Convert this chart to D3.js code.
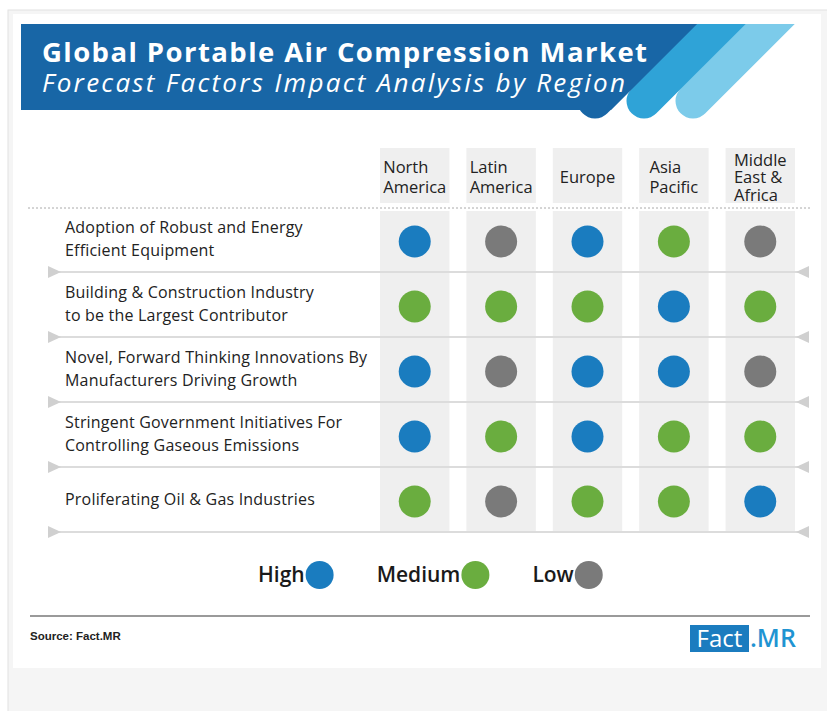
<!DOCTYPE html>
<html>
<head>
<meta charset="utf-8">
<script src="https://cdn.jsdelivr.net/npm/d3@7"></script>
<style>
  body { margin: 0; background: #fff; }
  svg { display: block; }
</style>
</head>
<body>
<div id="chart"></div>
<script>
var width = 827, height = 711;

// data
var regions = ["North America", "Latin America", "Europe", "Asia Pacific", "Middle East & Africa"];
var regionLines = [["North", "America"], ["Latin", "America"], ["Europe"], ["Asia", "Pacific"], ["Middle", "East &", "Africa"]];
var factors = [
  "Adoption of Robust and Energy Efficient Equipment",
  "Building & Construction Industry to be the Largest Contributor",
  "Novel, Forward Thinking Innovations By Manufacturers Driving Growth",
  "Stringent Government Initiatives For Controlling Gaseous Emissions",
  "Proliferating Oil & Gas Industries"
];
var factorLines = [
  ["Adoption of Robust and Energy", "Efficient Equipment"],
  ["Building & Construction Industry", "to be the Largest Contributor"],
  ["Novel, Forward Thinking Innovations By", "Manufacturers Driving Growth"],
  ["Stringent Government Initiatives For", "Controlling Gaseous Emissions"],
  ["Proliferating Oil & Gas Industries"]
];
var levels = ["High", "Medium", "Low"];
var impact = [
  ["High", "Low", "High", "Medium", "Low"],
  ["Medium", "Medium", "Medium", "High", "Medium"],
  ["High", "Low", "High", "High", "Low"],
  ["High", "Medium", "High", "Medium", "Medium"],
  ["Medium", "Low", "Medium", "Medium", "High"]
];

var color = d3.scaleOrdinal().domain(levels).range(["#1a7cbf", "#6aad3f", "#7a7a7a"]);

var svg = d3.select("#chart").append("svg")
  .attr("width", width)
  .attr("height", height);

// page frame
svg.append("rect").attr("x", 8).attr("y", 10).attr("width", 830).attr("height", 710)
  .attr("fill", "#f5f5f5").attr("stroke", "#e2e2e2");
svg.append("rect").attr("x", 13).attr("y", 14).attr("width", 808).attr("height", 654)
  .attr("fill", "#fff");

// banner
var defs = svg.append("defs");
defs.append("clipPath").attr("id", "bannerClip")
  .append("rect").attr("x", 0).attr("y", 24).attr("width", width).attr("height", 200);

var banner = svg.append("g").attr("clip-path", "url(#bannerClip)");
var stripes = [
  {top: 770, c: "#7ccbea"},
  {top: 721, c: "#2fa3d7"},
  {top: 672, c: "#1866a6"}
];
stripes.forEach(function(s) {
  banner.append("line")
    .attr("x1", s.top + 30).attr("y1", -6)
    .attr("x2", s.top - 77).attr("y2", 101)
    .attr("stroke", s.c)
    .attr("stroke-width", 35)
    .attr("stroke-linecap", "round");
});
banner.append("path")
  .attr("d", "M21,24L697,24L611,110L21,110Z")
  .attr("fill", "#1866a6");

svg.append("text")
  .text("Global Portable Air Compression Market")
  .attr("x", 42).attr("y", 62)
  .attr("font-family", "Open Sans").attr("font-weight", "bold")
  .attr("font-size", 27.5)
  .attr("textLength", 605).attr("lengthAdjust", "spacing")
  .attr("fill", "#fff");
svg.append("text")
  .text("Forecast Factors Impact Analysis by Region")
  .attr("x", 42).attr("y", 92)
  .attr("font-family", "Open Sans").attr("font-style", "italic")
  .attr("font-size", 26)
  .attr("textLength", 583).attr("lengthAdjust", "spacing")
  .attr("fill", "#fff");

// scales
var x = d3.scaleBand().domain(regions).range([380, 795]).paddingInner(0.196);
var y = d3.scaleBand().domain(factors).range([207, 532]);

// column backgrounds
svg.selectAll(".colHead").data(regions).enter().append("rect")
  .attr("x", function(d) { return x(d); })
  .attr("y", 148).attr("width", x.bandwidth()).attr("height", 55)
  .attr("fill", "#efefef");
svg.selectAll(".colBody").data(regions).enter().append("rect")
  .attr("x", function(d) { return x(d); })
  .attr("y", 211).attr("width", x.bandwidth()).attr("height", 322)
  .attr("fill", "#efefef");

// column headers
regions.forEach(function(r, i) {
  var lines = regionLines[i];
  var lh = lines.length > 2 ? 17.5 : 20;
  var mid = 177;
  var g = svg.append("g");
  var t = g.append("text")
    .attr("font-family", "Open Sans").attr("font-size", 16.5).attr("fill", "#222");
  lines.forEach(function(l, k) {
    t.append("tspan").text(l)
      .attr("x", 0)
      .attr("y", mid + (k - (lines.length - 1) / 2) * lh + 6);
  });
  var w = t.node().getBBox().width;
  g.attr("transform", "translate(" + (x(r) + x.bandwidth() / 2 - w / 2) + ",0)");
});

// dotted line
svg.append("line").attr("x1", 28).attr("x2", 810).attr("y1", 208).attr("y2", 208)
  .attr("stroke", "#aaa").attr("stroke-width", 1).attr("stroke-dasharray", "2,2");

// row separators
factors.forEach(function(f) {
  var yy = y(f) + y.bandwidth();
  svg.append("line").attr("x1", 50).attr("x2", 806).attr("y1", yy).attr("y2", yy)
    .attr("stroke", "#dcdcdc").attr("stroke-width", 2);
  svg.append("path")
    .attr("d", "M48," + (yy - 6) + "L61," + yy + "L48," + (yy + 6) + "Z")
    .attr("fill", "#d0d0d0");
  svg.append("path")
    .attr("d", "M809," + (yy - 6) + "L796," + yy + "L809," + (yy + 6) + "Z")
    .attr("fill", "#d0d0d0");
});

// row labels
factors.forEach(function(f, i) {
  var lines = factorLines[i];
  var c = y(f) + y.bandwidth() / 2;
  var t = svg.append("text")
    .attr("font-family", "Open Sans").attr("font-size", 16)
    .attr("letter-spacing", 0.2).attr("fill", "#222");
  lines.forEach(function(l, k) {
    t.append("tspan").text(l)
      .attr("x", 65)
      .attr("y", c + (k - (lines.length - 1) / 2) * 23 + 5);
  });
});

// impact circles
var cells = [];
impact.forEach(function(row, i) {
  row.forEach(function(v, j) {
    cells.push({factor: factors[i], region: regions[j], level: v});
  });
});
svg.selectAll(".cell").data(cells).enter().append("circle")
  .attr("cx", function(d) { return x(d.region) + x.bandwidth() / 2; })
  .attr("cy", function(d) { return y(d.factor) + y.bandwidth() / 2 + 2; })
  .attr("r", 16)
  .attr("fill", function(d) { return color(d.level); });

// legend: text then dot, laid out one after another
var lx = 258;
levels.forEach(function(lv) {
  var t = svg.append("text")
    .text(lv)
    .attr("x", lx).attr("y", 582)
    .attr("font-family", "Open Sans").attr("font-weight", 600)
    .attr("font-size", 21).attr("fill", "#1a1a1a");
  var w = t.node().getComputedTextLength();
  svg.append("circle")
    .attr("cx", lx + w + 15).attr("cy", 575).attr("r", 14)
    .attr("fill", color(lv));
  lx = lx + w + 29 + 43;
});

// footer
svg.append("line").attr("x1", 30).attr("x2", 810).attr("y1", 616).attr("y2", 616)
  .attr("stroke", "#9a9a9a").attr("stroke-width", 2);
svg.append("text").text("Source: Fact.MR")
  .attr("x", 30).attr("y", 640)
  .attr("font-family", "Liberation Sans Narrow, Arial Narrow, sans-serif")
  .attr("font-weight", "bold").attr("font-size", 11.5).attr("fill", "#222");

svg.append("rect").attr("x", 690).attr("y", 625).attr("width", 59).attr("height", 27)
  .attr("fill", "#1b7cbf");
svg.append("text").text("Fact")
  .attr("x", 719.5).attr("y", 647).attr("text-anchor", "middle")
  .attr("font-family", "Open Sans").attr("font-size", 24).attr("fill", "#fff");
svg.append("text").text(".MR")
  .attr("x", 750).attr("y", 647)
  .attr("font-family", "Open Sans").attr("font-weight", 600)
  .attr("font-size", 25).attr("fill", "#1f94d2");
</script>
</body>
</html>
